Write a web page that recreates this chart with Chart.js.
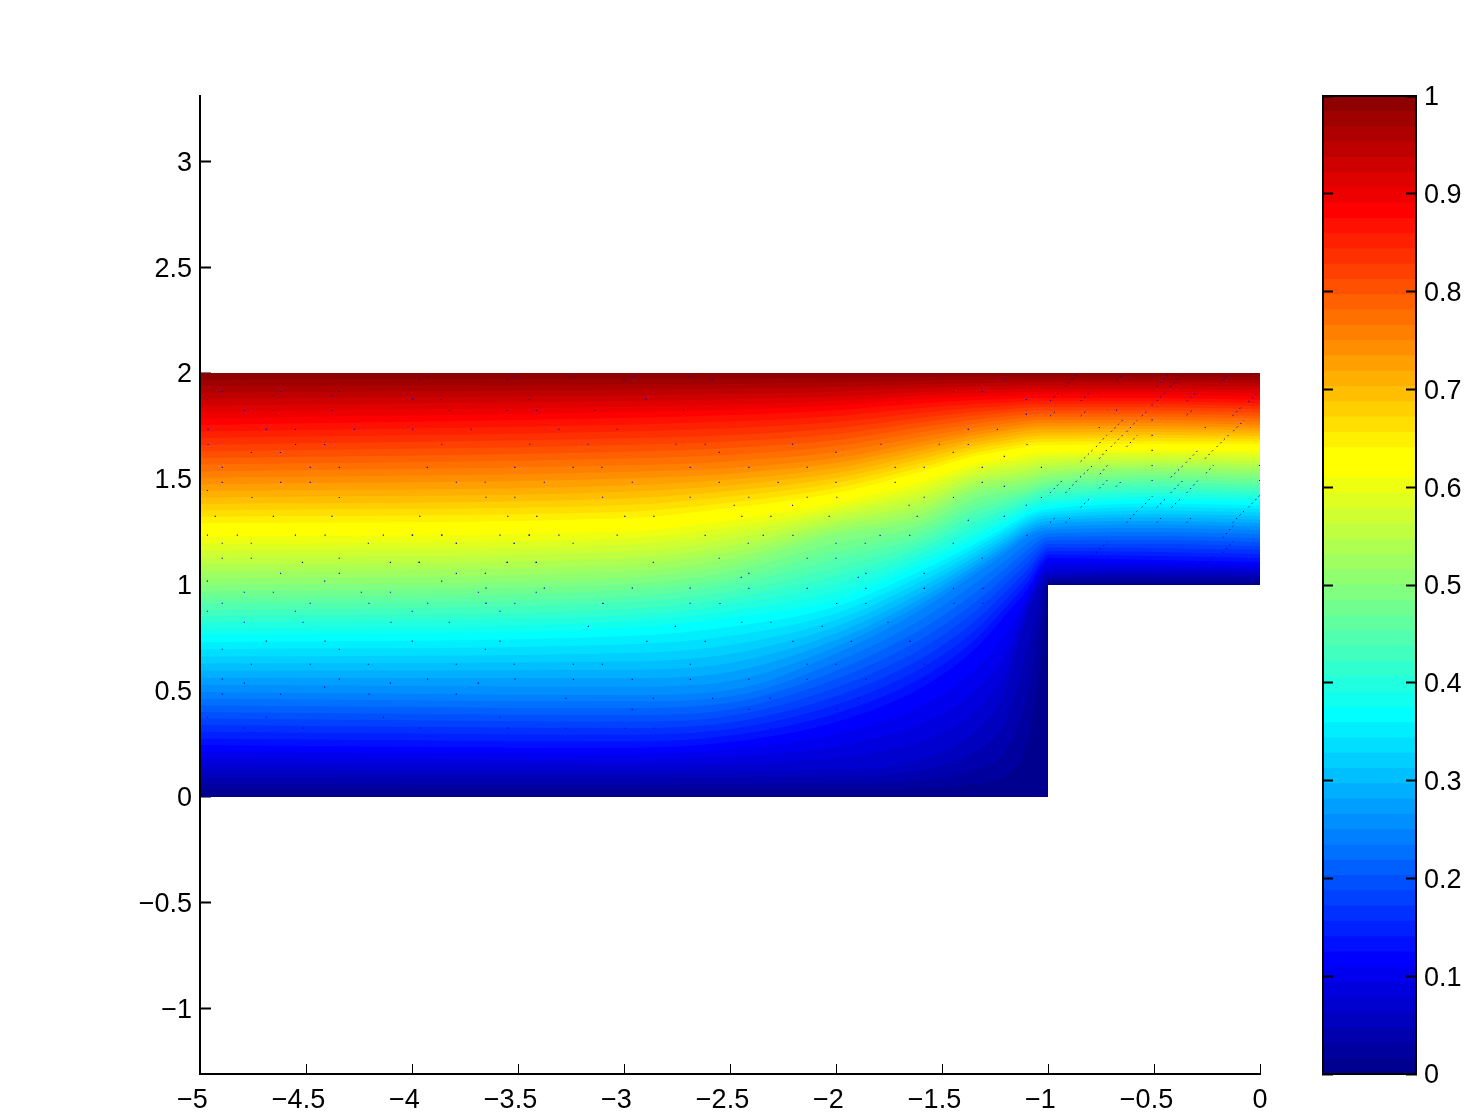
<!DOCTYPE html>
<html><head><meta charset="utf-8">
<script src="https://cdn.jsdelivr.net/npm/chart.js@4/dist/chart.umd.js"></script>
<style>html,body{margin:0;padding:0;background:#fff}canvas{position:absolute;top:0}#main{left:0}#bar{left:1300px}</style>
</head><body>
<canvas id="main" width="1472" height="1114"></canvas>
<canvas id="bar" width="172" height="1114"></canvas>
<script>
// x stations along the channel at which each colour contour's height was estimated from the picture
const stationX = [-5,-3,-2.5,-2,-1.6,-1.35,-1.2,-1.1,-1.03,-1,-0.5,0];
// lower boundary of the coloured region (floor, step face, step top)
const floorX = [-5,-1,-1,0];
const floorY = [0,0,1,1];
// contour heights, one row per colour level 1..64 (visual estimates)
const contourHeights = [
[.03,.03,.031,.032,.04,.06,.10,.25,.68,1.014,1.015,1.014],
[.061,.059,.061,.063,.08,.13,.22,.47,.88,1.025,1.03,1.028],
[.092,.089,.092,.095,.125,.21,.36,.68,.97,1.036,1.045,1.041],
[.123,.118,.123,.127,.175,.302,.505,.858,1.024,1.047,1.059,1.055],
[.153,.146,.157,.184,.26,.40,.595,.888,1.042,1.067,1.074,1.068],
[.184,.175,.191,.24,.345,.497,.68,.917,1.059,1.087,1.088,1.081],
[.214,.203,.225,.297,.43,.595,.77,.947,1.076,1.107,1.103,1.095],
[.245,.231,.259,.354,.514,.693,.858,.976,1.094,1.127,1.118,1.108],
[.276,.262,.290,.394,.560,.737,.895,1.007,1.114,1.144,1.137,1.127],
[.308,.294,.321,.435,.606,.782,.931,1.039,1.134,1.160,1.156,1.146],
[.339,.325,.351,.475,.652,.826,.968,1.070,1.154,1.177,1.175,1.165],
[.370,.356,.382,.516,.698,.870,1.005,1.101,1.175,1.193,1.194,1.184],
[.401,.387,.413,.556,.744,.914,1.041,1.132,1.195,1.210,1.212,1.202],
[.433,.419,.444,.596,.790,.959,1.078,1.164,1.215,1.226,1.231,1.221],
[.464,.450,.474,.637,.836,1.003,1.114,1.195,1.235,1.243,1.250,1.240],
[.495,.481,.505,.677,.882,1.047,1.151,1.226,1.255,1.259,1.269,1.259],
[.529,.520,.547,.709,.909,1.068,1.169,1.241,1.269,1.273,1.286,1.276],
[.562,.561,.590,.740,.935,1.088,1.186,1.256,1.283,1.288,1.302,1.292],
[.596,.600,.632,.772,.962,1.109,1.204,1.270,1.297,1.302,1.319,1.309],
[.630,.639,.675,.804,.989,1.130,1.222,1.285,1.312,1.316,1.335,1.326],
[.663,.678,.717,.835,1.014,1.150,1.239,1.300,1.326,1.330,1.351,1.342],
[.697,.719,.760,.867,1.041,1.171,1.257,1.315,1.340,1.344,1.368,1.359],
[.730,.758,.802,.898,1.067,1.191,1.274,1.329,1.354,1.359,1.384,1.375],
[.764,.797,.844,.930,1.094,1.212,1.292,1.344,1.368,1.373,1.401,1.392],
[.794,.827,.876,.969,1.120,1.240,1.313,1.361,1.385,1.390,1.418,1.408],
[.823,.856,.907,1.007,1.148,1.268,1.335,1.377,1.401,1.406,1.434,1.424],
[.853,.886,.938,1.045,1.174,1.296,1.356,1.394,1.418,1.423,1.451,1.440],
[.882,.916,.969,1.083,1.201,1.324,1.378,1.410,1.434,1.439,1.467,1.456],
[.912,.945,1.001,1.122,1.227,1.351,1.398,1.427,1.451,1.456,1.484,1.471],
[.941,.975,1.032,1.159,1.254,1.378,1.419,1.443,1.467,1.472,1.500,1.487],
[.971,1.003,1.062,1.198,1.281,1.406,1.441,1.460,1.484,1.489,1.517,1.503],
[1.0,1.033,1.094,1.236,1.307,1.434,1.462,1.480,1.5,1.505,1.533,1.519],
[1.032,1.064,1.124,1.257,1.333,1.453,1.482,1.498,1.518,1.523,1.548,1.536],
[1.065,1.095,1.155,1.280,1.359,1.473,1.501,1.517,1.537,1.540,1.563,1.552],
[1.097,1.126,1.184,1.301,1.385,1.492,1.521,1.537,1.555,1.558,1.577,1.569],
[1.130,1.158,1.215,1.324,1.410,1.513,1.541,1.557,1.573,1.576,1.592,1.585],
[1.163,1.190,1.245,1.345,1.436,1.532,1.560,1.577,1.591,1.593,1.607,1.602],
[1.195,1.221,1.275,1.366,1.462,1.551,1.579,1.597,1.610,1.611,1.622,1.618],
[1.228,1.252,1.305,1.389,1.488,1.571,1.598,1.617,1.628,1.628,1.636,1.635],
[1.260,1.283,1.335,1.410,1.514,1.590,1.618,1.637,1.646,1.646,1.651,1.651],
[1.291,1.315,1.363,1.434,1.534,1.607,1.634,1.652,1.661,1.661,1.665,1.664],
[1.322,1.345,1.389,1.458,1.554,1.623,1.650,1.668,1.676,1.676,1.679,1.677],
[1.352,1.377,1.417,1.481,1.574,1.640,1.666,1.683,1.690,1.690,1.693,1.690],
[1.382,1.408,1.444,1.505,1.595,1.656,1.682,1.698,1.705,1.705,1.708,1.703],
[1.413,1.440,1.471,1.528,1.615,1.673,1.697,1.713,1.720,1.720,1.722,1.716],
[1.444,1.470,1.498,1.552,1.635,1.689,1.713,1.729,1.735,1.735,1.736,1.729],
[1.474,1.502,1.525,1.575,1.655,1.706,1.729,1.744,1.749,1.749,1.750,1.742],
[1.505,1.533,1.552,1.599,1.675,1.722,1.745,1.759,1.764,1.764,1.764,1.755],
[1.536,1.565,1.583,1.627,1.698,1.741,1.762,1.774,1.779,1.779,1.779,1.770],
[1.568,1.597,1.615,1.656,1.721,1.760,1.778,1.790,1.794,1.794,1.794,1.785],
[1.599,1.629,1.646,1.684,1.744,1.779,1.795,1.805,1.808,1.808,1.808,1.799],
[1.630,1.661,1.677,1.712,1.767,1.798,1.811,1.821,1.823,1.823,1.823,1.814],
[1.661,1.692,1.708,1.740,1.789,1.816,1.828,1.836,1.838,1.838,1.838,1.829],
[1.693,1.724,1.740,1.769,1.812,1.835,1.844,1.851,1.853,1.853,1.853,1.844],
[1.724,1.756,1.771,1.797,1.835,1.854,1.861,1.867,1.867,1.867,1.867,1.858],
[1.755,1.788,1.802,1.825,1.858,1.873,1.877,1.882,1.882,1.882,1.882,1.873],
[1.786,1.815,1.827,1.847,1.876,1.889,1.892,1.897,1.897,1.897,1.897,1.889],
[1.816,1.841,1.851,1.869,1.894,1.905,1.908,1.912,1.912,1.912,1.912,1.905],
[1.847,1.868,1.876,1.890,1.911,1.921,1.923,1.926,1.926,1.926,1.926,1.921],
[1.878,1.894,1.901,1.912,1.929,1.936,1.939,1.941,1.941,1.941,1.941,1.936],
[1.908,1.921,1.926,1.934,1.947,1.952,1.954,1.956,1.956,1.956,1.956,1.952],
[1.939,1.947,1.950,1.956,1.965,1.968,1.969,1.970,1.970,1.970,1.970,1.968],
[1.969,1.974,1.975,1.978,1.982,1.984,1.985,1.985,1.985,1.985,1.985,1.984],
[2,2,2,2,2,2,2,2,2,2,2,2]
];
const specklePairs = [
[-4.965,1.235],[-4.824,1.235],[-4.55,1.235],[-4.41,1.235],[-4.135,1.235],[-3.999,1.235],[-3.86,1.235],[-3.585,1.235],[-3.447,1.235],
[-4.895,1.197],[-4.758,1.197],[-4.206,1.197],[-3.791,1.197],[-3.518,1.197],[-4.895,1.126],[-4.758,1.126],[-4.343,1.126],[-4.517,1.107],[-4.102,1.107],[-3.966,1.107],[-3.551,1.107],[-3.414,1.107],
[-4.62,1.055],[-4.343,1.055],[-3.791,1.055],[-3.654,1.055],[-4.965,1.018],[-4.412,1.018],[-3.86,1.018],[-4.791,.966],[-4.654,.966],[-4.239,.966],[-4.102,.966],[-3.687,.966],[-3.414,.966],
[-4.895,.914],[-4.48,.914],[-4.203,.914],[-3.926,.914],[-3.651,.914],[-4.965,.876],[-4.55,.876],[-3.999,.876],[-3.585,.876],[-4.791,.824],[-4.514,.824],[-4.099,.824],[-3.824,.824],
[-4.687,.735],[-4.41,.735],[-3.999,.735],[-3.585,.735],[-4.895,.697],[-4.343,.697],[-3.654,.697],[-4.758,.626],[-4.48,.626],[-4.206,.626],[-3.791,.626],[-3.518,.626],
[-4.895,.556],[-4.343,.556],[-3.926,.556],[-3.514,.556],[-4.791,.537],[-4.412,.518],[-4.102,.537],[-3.687,.537],[-4.895,.485],[-4.62,.485],[-4.203,.485],[-3.791,.485],
[-4.965,.376],[-4.687,.376],[-4.135,.376],[-3.585,.376],[-4.791,.325],[-4.514,.325],[-3.962,.325],[-3.547,.325],
[-3.098,.913],[-2.547,.913],[-1.997,.913],[-1.859,.913],[-3.168,.805],[-2.758,.805],[-2.444,.824],[-2.307,.824],[-2.065,.805],[-1.755,.824],[-2.892,.734],[-2.617,.734],[-2.203,.734],[-1.928,.734],[-1.651,.734],
[-3.239,.626],[-3.102,.626],[-2.687,.626],[-2.136,.626],[-2,.626],[-3.239,.555],[-2.961,.555],[-2.687,.555],[-2.411,.555],[-2.136,.555],[-1.859,.555],[-3.274,.465],[-2.862,.465],[-2.582,.465],[-2.31,.465],[-1.895,.465],
[-2.961,.413],[-2.411,.413],[-1.997,.413],[-3.274,.324],[-2.995,.324],[-2.859,.324],[-2.444,.324],[-2.307,.324],[-2.17,.324],
[-2.617,1.664],[-2.205,1.664],[-1.788,1.664],[-1.513,1.664],[-2.551,1.626],[-2,1.626],[-1.447,1.626],[-2.411,1.555],[-2.136,1.555],[-1.721,1.555],[-1.584,1.555],[-2.551,1.484],[-2.273,1.484],[-2,1.484],[-1.721,1.484],
[-2.411,1.414],[-2.136,1.414],[-1.996,1.414],[-1.584,1.414],[-2.48,1.376],[-2.205,1.376],[-1.655,1.376],[-2.444,1.324],[-2.307,1.324],[-2.032,1.324],[-1.617,1.324],[-2.617,1.234],[-2.343,1.234],[-2.203,1.234],[-1.792,1.234],[-1.652,1.234],
[-2.414,1.197],[-2,1.197],[-1.862,1.197],[-1.447,1.197],[-2.551,1.126],[-2.136,1.126],[-2,1.126],[-2.411,1.055],[-1.859,1.055],[-1.584,1.055],[-2.447,1.036],[-1.895,1.036],[-2.411,.984],[-2.136,.984],[-1.859,.984],[-1.584,.984],
[-3.928,1.985],[-3.515,1.985],[-3.24,1.985],[-2.961,1.985],[-2.688,1.985],[-3.966,1.966],[-3.551,1.966],[-3,1.966],[-2.584,1.966],[-3.997,1.876],[-3.862,1.876],[-3.447,1.876],[-2.895,1.876],
[-3.824,1.824],[-3.551,1.824],[-3.412,1.824],[-3.136,1.824],[-2.719,1.824],[-3.997,1.735],[-3.721,1.735],[-3.307,1.735],[-3.032,1.735],[-3.859,1.664],[-3.444,1.664],[-3.169,1.664],[-2.755,1.664],
[-3.928,1.555],[-3.515,1.555],[-3.24,1.555],[-3.104,1.555],[-2.688,1.555],[-3.791,1.485],[-3.655,1.485],[-3.376,1.485],[-2.961,1.485],[-3.651,1.414],[-3.515,1.414],[-3.101,1.414],[-2.688,1.414],
[-3.963,1.324],[-3.548,1.324],[-3.411,1.324],[-2.996,1.324],[-2.859,1.324],[-3.997,1.235],[-3.859,1.235],[-3.447,1.235],[-3.307,1.235],[-3.032,1.235],[-3.791,1.197],[-3.518,1.197],[-3.24,1.197],
[-3.966,1.107],[-3.551,1.107],[-3.414,1.107],[-2.862,1.107],[-3.651,.985],[-3.376,.985],[-2.961,.985],[-2.688,.985],[-3.651,.914],[-3.515,.914],[-3.101,.914],[-2.688,.914],
[-4.895,1.913],[-4.619,1.913],[-4.343,1.913],[-4.965,1.875],[-4.654,1.894],[-4.377,1.894],[-4.791,1.823],[-4.654,1.823],[-4.377,1.823],[-4.962,1.734],[-4.687,1.734],[-4.55,1.734],[-4.272,1.734],
[-4.962,1.663],[-4.549,1.663],[-4.412,1.663],[-4.758,1.625],[-4.621,1.625],[-4.895,1.555],[-4.48,1.555],[-4.343,1.555],[-4.895,1.484],[-4.619,1.484],[-4.48,1.484],[-4.965,1.446],[-4.755,1.413],[-4.343,1.413],[-4.928,1.324],[-4.654,1.324],[-4.377,1.324],
[-1.206,1.967],[-1.446,1.913],[-1.31,1.913],[-1.102,1.875],[-1.102,1.805],[-1.376,1.734],[-1.239,1.734],[-1.376,1.663],[-1.099,1.663],[-1.206,1.607],[-1.31,1.555],[-1.031,1.555],[-1.31,1.484],[-1.206,1.465],[-1.446,1.413],[-1.031,1.413],[-1.102,1.376],[-1.206,1.324],[-1.376,1.305],[-1.099,1.234],[-1.31,1.126],
[-1.583,.984],[-1.446,.984],[-1.307,.984],[-1.443,.914],[-1.307,.914],[-1.651,.734],[-1.583,.626],[-1.446,.626],[-1.583,.555],[-1.307,.555],[-1.443,.484],[-1.654,.447],[-1.206,.824],[-1.31,.769],
[-.509,1.849],[-.677,1.825],[-.509,1.778],[-.758,1.743],[-.258,1.743],[-.509,1.706],[-.509,1.635],[-.509,1.564],[-.509,1.493],[-.002,1.564],[-.002,1.493]
];
// diagonal speck runs right of the step, as [x1,y1,x2,y2]
const hatchRuns = [
[-.92,1.935,-.861,1.995],[-.676,1.964,-.649,1.995],[-.487,1.935,-.432,1.995],[-.424,1.935,-.362,1.995],[-.176,1.964,-.149,1.995],
[-.99,1.868,-.943,1.915],[-.846,1.868,-.799,1.915],[-.487,1.868,-.443,1.912],[-.346,1.868,-.299,1.912],[-.055,1.864,-.008,1.915],
[-.99,1.797,-.959,1.825],[-.846,1.797,-.817,1.825],[-.558,1.797,-.531,1.822],[-.346,1.802,-.322,1.822],[-.129,1.798,-.079,1.849],
[-.703,1.723,-.648,1.778],[-.629,1.723,-.579,1.778],[-.126,1.726,-.075,1.778],[-.773,1.652,-.723,1.707],[-.703,1.652,-.648,1.707],[-.629,1.652,-.579,1.707],[-.204,1.652,-.149,1.707],
[-.846,1.582,-.789,1.637],[-.758,1.596,-.723,1.637],[-.349,1.577,-.291,1.637],[-.259,1.596,-.22,1.637],[-.99,1.435,-.931,1.495],[-.917,1.435,-.861,1.495],[-.849,1.508,-.789,1.564],[-.755,1.523,-.72,1.564],[-.421,1.508,-.362,1.564],[-.255,1.527,-.22,1.564],
[-.758,1.456,-.72,1.495],[-.679,1.464,-.648,1.495],[-.421,1.435,-.362,1.495],[-.346,1.435,-.291,1.495],[-.846,1.366,-.802,1.409],[-.558,1.366,-.506,1.42],[-.487,1.366,-.44,1.413],[-.417,1.366,-.369,1.413],[-.055,1.366,0,1.424],
[-.99,1.294,-.959,1.325],[-.917,1.294,-.888,1.325],[-.629,1.294,-.579,1.35],[-.487,1.294,-.459,1.325],[-.346,1.294,-.318,1.325],[-.129,1.294,-.075,1.35],[-.176,1.223,-.126,1.28],
[-.773,1.152,-.72,1.204],[-.176,1.152,-.126,1.207],[-.846,1.079,-.789,1.134],[-.758,1.094,-.715,1.134],[-.349,1.079,-.291,1.134],[-.259,1.099,-.22,1.134]
];
const xTickValues = [-5,-4.5,-4,-3.5,-3,-2.5,-2,-1.5,-1,-0.5,0];
const yTickValues = [-1,-0.5,0,0.5,1,1.5,2,2.5,3];
const barTickValues = [0,0.1,0.2,0.3,0.4,0.5,0.6,0.7,0.8,0.9,1];

const FONT = {family:'"Liberation Sans"', size:27};
const fmt = v => String(v).replace('-', '\u2212');
function jet(k){
  let r=0,g=0,b=0;
  if(k<=7) b=(k+9)/16; else if(k<=23) b=1; else if(k<=39) b=(39-k)/16;
  if(k>=8&&k<=23) g=(k-7)/16; else if(k>=24&&k<=40) g=1; else if(k>=41&&k<=55) g=(56-k)/16;
  if(k>=24&&k<=39) r=(k-23)/16; else if(k>=40&&k<=56) r=1; else if(k>=57) r=(72-k)/16;
  return `rgb(${Math.round(r*255)},${Math.round(g*255)},${Math.round(b*255)})`;
}
const setTicks = vals => s => { s.ticks = vals.map(v => ({value:v})); };

const bands = contourHeights.map((row,k) => ({
  data: row.map((y,i) => ({x:stationX[i], y})),
  borderWidth:0, pointRadius:0, backgroundColor:jet(k),
  fill: contourHeights.length, cubicInterpolationMode:'monotone'
}));
const floorSet = {
  data: floorX.map((x,i) => ({x, y:floorY[i]})),
  borderWidth:0, pointRadius:0, fill:false, tension:0
};
const speckleSet = {
  data: specklePairs.map(p => ({x:p[0], y:p[1]})),
  showLine:false, fill:false, order:-2,
  pointStyle:'rect', pointRadius:0.8, pointBorderWidth:0, pointBackgroundColor:'#0000d0'
};
const hatchSet = {
  data: hatchRuns.flatMap(r => [{x:r[0],y:r[1]},{x:r[2],y:r[3]},{x:r[2],y:null}]),
  borderColor:'#0000b0', borderWidth:1, borderDash:[1.4,3.6], pointRadius:0, fill:false,
  tension:0, spanGaps:false, order:-1
};

new Chart(document.getElementById('main'), {
  type:'line',
  data:{datasets:[...bands, floorSet, speckleSet, hatchSet]},
  options:{
    responsive:false, animation:false, events:[],
    layout:{padding:{left:0,top:96,right:212,bottom:0}},
    plugins:{legend:{display:false},tooltip:{enabled:false}},
    scales:{
      x:{type:'linear',min:-5,max:0,
        afterBuildTicks:setTicks(xTickValues),
        afterFit:s=>{s.height=40;},
        grid:{drawOnChartArea:false,tickLength:-10,tickWidth:1,tickColor:'#000'},
        border:{color:'#000',width:2,z:1},
        ticks:{font:FONT,color:'#000',padding:20,maxRotation:0,autoSkip:false,
          callback:v=> v<0 ? fmt(v)+'\u00a0\u00a0' : fmt(v)}
      },
      y:{type:'linear',min:-1.307,max:3.307,
        afterBuildTicks:setTicks(yTickValues),
        afterFit:s=>{s.width=200;},
        grid:{drawOnChartArea:false,tickLength:-11,tickWidth:2,tickColor:'#000'},
        border:{color:'#000',width:2,z:1},
        ticks:{font:FONT,color:'#000',padding:19,labelOffset:2,autoSkip:false,callback:v=>fmt(v)}
      }
    }
  }
});

const barSets = contourHeights.map((_,k) => ({
  data:[[0,(k+1)/contourHeights.length]], backgroundColor:jet(k), borderWidth:0,
  barPercentage:1, categoryPercentage:1, yAxisID:'yR', xAxisID:'x'
}));
const inward = {drawOnChartArea:false,tickLength:-10,tickWidth:2,tickColor:'#000',z:2};
const frame = {color:'#000',width:2,z:3};
new Chart(document.getElementById('bar'), {
  type:'bar',
  data:{labels:[''],datasets:barSets},
  options:{
    responsive:false, animation:false, events:[],
    layout:{padding:{left:0,top:96,right:0,bottom:0}},
    plugins:{legend:{display:false},tooltip:{enabled:false}},
    scales:{
      x:{stacked:true,position:'bottom',afterFit:s=>{s.height=40;},
        grid:{display:false},border:frame,ticks:{display:false}},
      xT:{type:'category',labels:[''],position:'top',afterFit:s=>{s.height=0;},
        grid:{display:false},border:frame,ticks:{display:false}},
      yL:{type:'linear',position:'left',min:0,max:1,afterBuildTicks:setTicks(barTickValues),
        afterFit:s=>{s.width=23;},grid:inward,border:frame,ticks:{display:false}},
      yR:{type:'linear',position:'right',min:0,max:1,afterBuildTicks:setTicks(barTickValues),
        afterFit:s=>{s.width=56;},grid:inward,border:frame,
        ticks:{font:FONT,color:'#000',padding:18,labelOffset:2,autoSkip:false,callback:v=>String(v)}}
    }
  }
});
</script>
</body></html>
